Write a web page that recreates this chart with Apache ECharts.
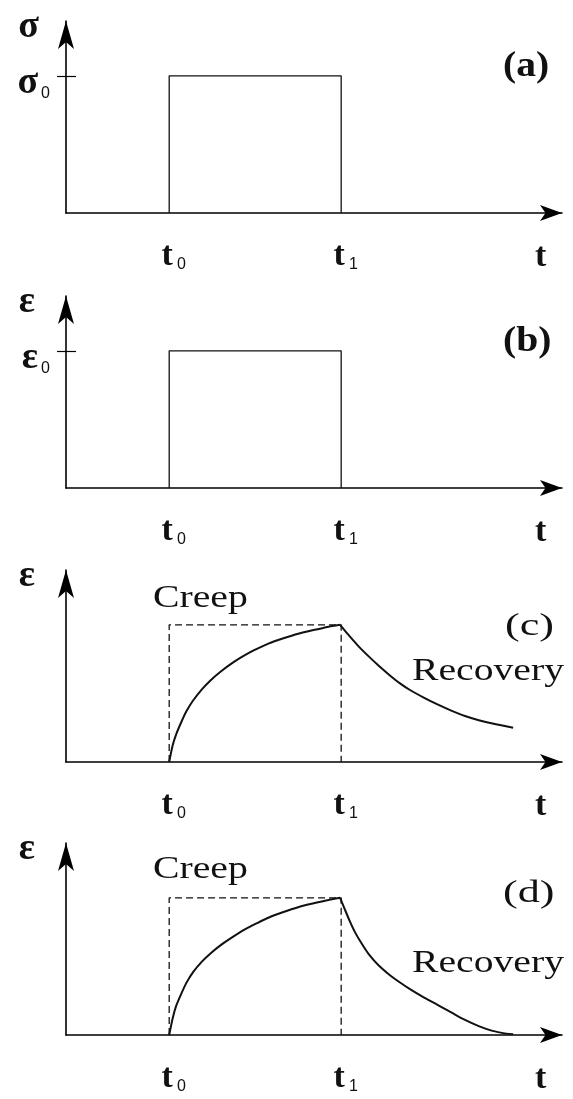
<!DOCTYPE html>
<html>
<head>
<meta charset="utf-8">
<script src="https://cdn.jsdelivr.net/npm/echarts@6/dist/echarts.min.js"></script>
<style>
  html, body { margin: 0; padding: 0; background: #fff; }
  #chart { width: 573px; height: 1099px; }
</style>
</head>
<body>
<div id="chart"></div>
<script>
// Time marks: t0 = load applied, t1 = load removed (arbitrary time units)
const tickTimes = [3, 8];
const tickSubscripts = ['0', '1'];
const timeMax = 14.42;
const levelMax = 1.4;

// Axis symbols of the four panels and the level marked on the vertical axis
const axisSymbols = ['σ', 'ε', 'ε', 'ε'];
const levelSymbols = ['σ', 'ε', null, null];
const panelTags = ['(a)', '(b)', '(c)', '(d)'];

// (a) applied stress and (b) imposed strain, normalised to σ0 / ε0
const stepTimes = [3, 3, 8, 8];
const stressSteps = [0, 1, 1, 0];
const strainSteps = [0, 1, 1, 0];

// (c) creep with incomplete recovery, strain normalised to its value at t1
const creepTimesC = [3.0, 3.1, 3.2, 3.35, 3.5, 3.7, 3.95, 4.2, 4.5, 4.85, 5.2, 5.55, 5.9, 6.3, 6.75, 7.2, 7.6, 7.97];
const creepStrainC = [0, 0.12, 0.20, 0.29, 0.37, 0.45, 0.53, 0.595, 0.66, 0.725, 0.78, 0.825, 0.865, 0.90, 0.935, 0.962, 0.985, 1.0];
const recoveryTimesC = [7.97, 8.2, 8.5, 8.8, 9.1, 9.4, 9.7, 10.0, 10.4, 10.8, 11.2, 11.6, 12.0, 12.5, 13.0];
const recoveryStrainC = [1.0, 0.93, 0.845, 0.77, 0.70, 0.635, 0.575, 0.525, 0.47, 0.42, 0.375, 0.335, 0.305, 0.275, 0.25];

// (d) creep with full recovery
const creepTimesD = [3.0, 3.1, 3.2, 3.35, 3.5, 3.7, 3.95, 4.2, 4.5, 4.85, 5.2, 5.55, 5.9, 6.3, 6.75, 7.2, 7.6, 7.97];
const creepStrainD = [0, 0.12, 0.21, 0.30, 0.38, 0.46, 0.535, 0.595, 0.655, 0.715, 0.77, 0.815, 0.857, 0.895, 0.932, 0.96, 0.983, 1.0];
const recoveryTimesD = [7.97, 8.1, 8.25, 8.4, 8.6, 8.8, 9.1, 9.4, 9.7, 10.0, 10.4, 10.8, 11.2, 11.6, 12.0, 12.4, 12.8, 13.0];
const recoveryStrainD = [1.0, 0.92, 0.83, 0.75, 0.665, 0.59, 0.505, 0.44, 0.385, 0.335, 0.275, 0.22, 0.165, 0.11, 0.065, 0.03, 0.01, 0.005];

const pairs = (xs, ys) => xs.map((x, i) => [x, ys[i]]);

const INK = '#111';
const gridTops = [21, 296, 570, 843];
const gridHeight = 192;

const grids = gridTops.map(top => ({ left: 66, top: top, width: 496, height: gridHeight }));

const xAxes = gridTops.map((_, i) => ({
  gridIndex: i,
  type: 'value',
  min: 0,
  max: timeMax,
  name: 't',
  nameLocation: 'end',
  nameGap: -27,
  nameTextStyle: {
    color: INK, fontFamily: 'Liberation Serif', fontWeight: 'bold', fontSize: 34,
    align: 'left', verticalAlign: 'top', padding: [27, 0, 0, 0]
  },
  axisLine: {
    show: true, onZero: false,
    symbol: ['none', 'arrow'], symbolSize: [12, 22],
    lineStyle: { color: '#000', width: 1.6 }
  },
  axisTick: { show: false },
  splitLine: { show: false },
  axisLabel: {
    show: true,
    customValues: tickTimes,
    margin: 26,
    formatter: v => '{t|t}{s|' + tickSubscripts[tickTimes.indexOf(v)] + '}',
    rich: {
      t: { fontFamily: 'Liberation Serif', fontWeight: 'bold', fontSize: 34, color: INK, padding: [0, 0, 0, 9] },
      s: { fontFamily: 'Liberation Sans', fontSize: 16, color: INK, verticalAlign: 'bottom', padding: [0, 0, 0, 4] }
    }
  }
}));

const yAxes = [];
gridTops.forEach((_, i) => {
  const lvl = levelSymbols[i];
  const sym = axisSymbols[i];
  yAxes.push({
    gridIndex: i,
    type: 'value',
    position: 'left',
    min: 0,
    max: levelMax,
    name: sym,
    nameLocation: 'end',
    nameGap: -6,
    nameTextStyle: {
      color: INK, fontFamily: 'Liberation Serif', fontWeight: 'bold', fontSize: 38,
      align: 'right', verticalAlign: 'middle', padding: [0, sym === 'σ' ? 27 : 31, 0, 0]
    },
    axisLine: {
      show: true,
      symbol: ['none', 'arrow'], symbolSize: [12, 28],
      lineStyle: { color: '#000', width: 1.6 }
    },
    axisTick: { show: !!lvl, customValues: [1], length: 9, lineStyle: { color: '#000', width: 1.2 } },
    splitLine: { show: false },
    axisLabel: {
      show: !!lvl,
      customValues: [1],
      margin: 16,
      formatter: () => '{g|' + lvl + '}{s|0}',
      rich: {
        g: { fontFamily: 'Liberation Serif', fontWeight: 'bold', fontSize: 38, color: INK, padding: [14, 0, 0, 0] },
        s: { fontFamily: 'Liberation Sans', fontSize: 16, color: INK, verticalAlign: 'bottom', padding: [0, 0, 0, 3] }
      }
    }
  });
  // inner half of the level tick
  yAxes.push({
    gridIndex: i,
    type: 'value',
    position: 'left',
    min: 0,
    max: levelMax,
    axisLine: { show: false },
    axisTick: { show: !!lvl, inside: true, customValues: [1], length: 10, lineStyle: { color: '#000', width: 1.2 } },
    axisLabel: { show: false },
    splitLine: { show: false }
  });
});

const solid = (grid, data, width) => ({
  type: 'line', xAxisIndex: grid, yAxisIndex: grid * 2, data: data,
  symbol: 'none', silent: true,
  lineStyle: { color: INK, width: width }
});
const curve = (grid, data) => Object.assign(solid(grid, data, 2), { smooth: 0.25 });
const dashed = (grid, data) => ({
  type: 'line', xAxisIndex: grid, yAxisIndex: grid * 2, data: data,
  symbol: 'none', silent: true,
  lineStyle: { color: '#111', width: 1.3, type: [7, 4] }
});

const series = [
  solid(0, pairs(stepTimes, stressSteps), 1.3),
  solid(1, pairs(stepTimes, strainSteps), 1.3),
  dashed(2, pairs(stepTimes, strainSteps)),
  curve(2, pairs(creepTimesC, creepStrainC)),
  curve(2, pairs(recoveryTimesC, recoveryStrainC)),
  dashed(3, pairs(stepTimes, strainSteps)),
  curve(3, pairs(creepTimesD, creepStrainD)),
  curve(3, pairs(recoveryTimesD, recoveryStrainD))
];

const serifText = (text, x, y, size, weight, sx) => ({
  type: 'text', x: x, y: y, scaleX: sx, silent: true,
  style: {
    text: text, fill: INK, fontFamily: 'Liberation Serif', fontSize: size,
    fontWeight: weight, align: 'left', verticalAlign: 'top'
  }
});

const graphic = [
  serifText(panelTags[0], 503, 49, 36, 'bold', 1.1),
  serifText(panelTags[1], 503, 324, 36, 'bold', 1.1),
  serifText(panelTags[2], 505, 611, 32, 'normal', 1.38),
  serifText(panelTags[3], 503, 878, 32, 'normal', 1.38),
  serifText('Creep', 153, 583, 31, 'normal', 1.28),
  serifText('Creep', 153, 854, 31, 'normal', 1.28),
  serifText('Recovery', 412, 656, 31, 'normal', 1.28),
  serifText('Recovery', 412, 948, 31, 'normal', 1.28)
];

const chart = echarts.init(document.getElementById('chart'), null, { renderer: 'canvas' });
chart.setOption({
  animation: false,
  backgroundColor: '#fff',
  grid: grids,
  xAxis: xAxes,
  yAxis: yAxes,
  series: series,
  graphic: graphic
});
</script>
</body>
</html>
